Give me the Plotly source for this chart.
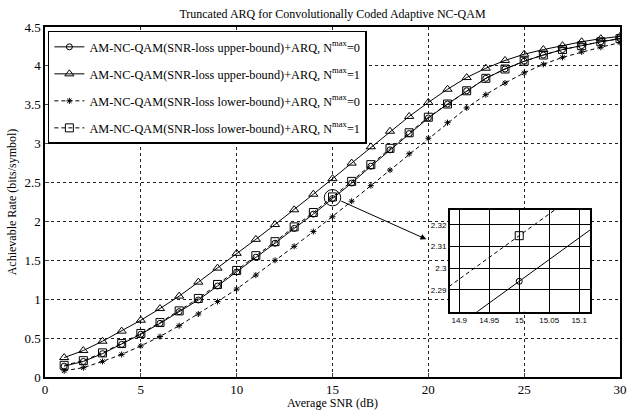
import plotly.graph_objects as go

snr = list(range(1, 31))
ub_n0 = [0.14, 0.20, 0.30, 0.42, 0.55, 0.69, 0.84, 0.99, 1.17, 1.35, 1.54, 1.72, 1.91, 2.094, 2.294,
         2.494, 2.71, 2.92, 3.13, 3.33, 3.51, 3.68, 3.84, 3.96, 4.06, 4.14, 4.21, 4.26, 4.31, 4.35]
ub_n1 = [0.25, 0.34, 0.46, 0.59, 0.73, 0.88, 1.04, 1.22, 1.40, 1.59, 1.77, 1.96, 2.15, 2.35, 2.55,
         2.75, 2.96, 3.16, 3.35, 3.53, 3.70, 3.85, 3.97, 4.07, 4.15, 4.21, 4.26, 4.31, 4.35, 4.38]
lb_n0 = [0.08, 0.12, 0.20, 0.29, 0.40, 0.52, 0.66, 0.81, 0.97, 1.13, 1.31, 1.50, 1.68, 1.87, 2.06,
         2.26, 2.46, 2.66, 2.87, 3.07, 3.27, 3.46, 3.63, 3.78, 3.91, 4.02, 4.11, 4.18, 4.24, 4.30]
lb_n1 = [0.15, 0.21, 0.31, 0.43, 0.56, 0.70, 0.85, 1.01, 1.19, 1.37, 1.56, 1.74, 1.93, 2.115, 2.315,
         2.515, 2.73, 2.94, 3.14, 3.34, 3.51, 3.68, 3.84, 3.96, 4.06, 4.14, 4.21, 4.26, 4.31, 4.35]

names = [
    "AM-NC-QAM(SNR-loss upper-bound)+ARQ, N<sup>max</sup>=0",
    "AM-NC-QAM(SNR-loss upper-bound)+ARQ, N<sup>max</sup>=1",
    "AM-NC-QAM(SNR-loss lower-bound)+ARQ, N<sup>max</sup>=0",
    "AM-NC-QAM(SNR-loss lower-bound)+ARQ, N<sup>max</sup>=1",
]
series = [ub_n0, ub_n1, lb_n0, lb_n1]
symbols = ["circle-open", "triangle-up-open", "asterisk-open", "square-open"]
sizes = [6, 8, 5, 8]
dashes = ["solid", "solid", "4px,3px", "4px,3px"]

SERIF = "Liberation Serif"
fig = go.Figure()
for i in range(4):
    fig.add_trace(go.Scatter(
        x=snr, y=series[i], name=names[i], mode="lines+markers",
        line=dict(color="black", width=1, dash=dashes[i]),
        marker=dict(symbol=symbols[i], size=sizes[i], color="black",
                    line=dict(color="black", width=1)),
        legendgroup=str(i),
    ))
# inset: same data on zoomed axes
for i in [0, 3]:
    fig.add_trace(go.Scatter(
        x=snr, y=series[i], mode="lines+markers", showlegend=False,
        line=dict(color="black", width=1, dash=dashes[i]),
        marker=dict(symbol=symbols[i], size=sizes[i], color="black",
                    line=dict(color="black", width=1)),
        xaxis="x2", yaxis="y2",
    ))

fig.update_layout(
    width=634, height=410,
    margin=dict(l=45, r=14, t=27, b=33, autoexpand=False),
    paper_bgcolor="white", plot_bgcolor="white",
    font=dict(family=SERIF, size=13, color="black"),
    title=dict(text="Truncated ARQ for Convolutionally Coded Adaptive NC-QAM",
               x=0.5, xref="paper", y=0.966, yref="container", yanchor="middle",
               font=dict(family=SERIF, size=12)),
    xaxis=dict(range=[0, 30], dtick=5, showgrid=True, gridcolor="#222",
               griddash="dot", gridwidth=1, showline=True, linecolor="black",
               linewidth=1.5, mirror=True, ticks="inside", ticklen=4,
               zeroline=False, automargin=False,
               title=dict(text="Average SNR (dB)", standoff=0,
                          font=dict(family=SERIF, size=12)),
               tickfont=dict(family=SERIF, size=13)),
    yaxis=dict(range=[0, 4.5], dtick=0.5, showgrid=True, gridcolor="#222",
               griddash="dot", gridwidth=1, showline=True, linecolor="black",
               linewidth=1.5, mirror=True, ticks="inside", ticklen=4,
               zeroline=False, automargin=False,
               title=dict(text="Achievable Rate (bits/symbol)", standoff=5,
                          font=dict(family=SERIF, size=12)),
               tickfont=dict(family=SERIF, size=13)),
    xaxis2=dict(domain=[0.7043, 0.9478], anchor="y2", range=[14.8845, 15.118],
                tickvals=[14.9, 14.95, 15, 15.05, 15.1],
                ticktext=["14.9", "14.95", "15", "15.05", "15.1"],
                showgrid=True, gridcolor="black", gridwidth=1,
                showline=True, linecolor="black", linewidth=2, mirror=True,
                ticks="", zeroline=False, automargin=False,
                tickfont=dict(family="Liberation Sans", size=8)),
    yaxis2=dict(domain=[0.1866, 0.477], anchor="x2", range=[2.28, 2.3268],
                tickvals=[2.29, 2.3, 2.31, 2.32],
                ticktext=["2.29", "2.3", "2.31", "2.32"],
                showgrid=True, gridcolor="black", gridwidth=1,
                showline=True, linecolor="black", linewidth=2, mirror=True,
                ticks="", zeroline=False, automargin=False,
                tickfont=dict(family="Liberation Sans", size=8)),
    legend=dict(x=0.005, y=0.989, xanchor="left", yanchor="top",
                bgcolor="white", bordercolor="black", borderwidth=1.5,
                font=dict(family=SERIF, size=12.3), itemwidth=30,
                tracegroupgap=8),
    showlegend=True,
)

fig.add_shape(type="circle", xref="x", yref="y", x0=14.57, x1=15.43, y0=2.2, y1=2.41,
              line=dict(color="black", width=1))
fig.add_annotation(x=19.9, y=1.77, ax=15.38, ay=2.27, xref="x", yref="y",
                   axref="x", ayref="y", text="", showarrow=True,
                   arrowhead=2, arrowsize=1.2, arrowwidth=1, arrowcolor="black")

fig.write_html("out.html", config={"displayModeBar": False},
               post_script="document.body.style.margin='0px';document.body.style.overflow='hidden';")
